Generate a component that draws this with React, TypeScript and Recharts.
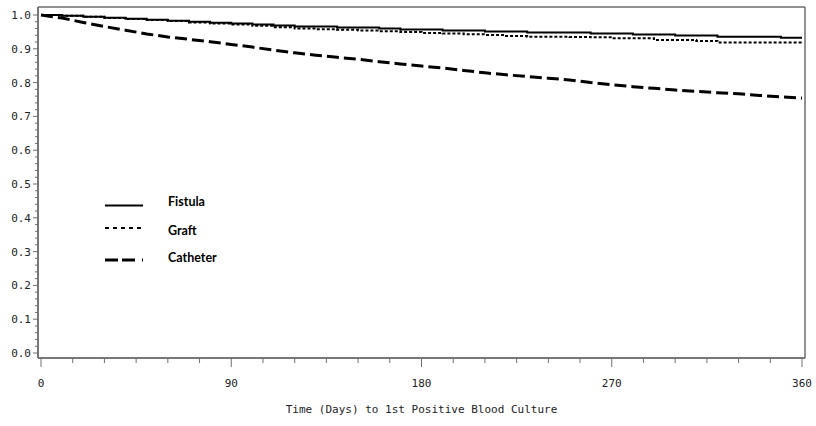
import React from 'react';
import { LineChart, Line, XAxis, YAxis, Legend, CartesianGrid } from 'recharts';

// survival estimates, every 10 days
const days = [
  0, 10, 20, 30, 40, 50, 60, 70, 80, 90, 100, 110, 120, 130, 140, 150, 160, 170, 180,
  190, 200, 210, 220, 230, 240, 250, 260, 270, 280, 290, 300, 310, 320, 330, 340, 350, 360,
];
const fistula = [
  1.0, 0.998, 0.995, 0.992, 0.989, 0.986, 0.983, 0.98, 0.977, 0.975, 0.972, 0.969, 0.966,
  0.966, 0.963, 0.963, 0.96, 0.957, 0.957, 0.954, 0.954, 0.951, 0.951, 0.948, 0.948, 0.948,
  0.945, 0.945, 0.942, 0.942, 0.939, 0.939, 0.936, 0.936, 0.936, 0.933, 0.933,
];
const graft = [
  1.0, 0.998, 0.995, 0.991, 0.988, 0.985, 0.982, 0.978, 0.975, 0.972, 0.968, 0.964, 0.96,
  0.958, 0.956, 0.954, 0.952, 0.95, 0.947, 0.945, 0.943, 0.941, 0.938, 0.936, 0.936, 0.935,
  0.934, 0.931, 0.931, 0.926, 0.926, 0.923, 0.919, 0.919, 0.919, 0.919, 0.919,
];
const catheter = [
  1.0, 0.991, 0.978, 0.966, 0.955, 0.944, 0.935, 0.928, 0.921, 0.913, 0.905, 0.896, 0.888,
  0.881, 0.875, 0.869, 0.862, 0.855, 0.849, 0.843, 0.836, 0.829, 0.823, 0.818, 0.813, 0.808,
  0.8, 0.794, 0.788, 0.783, 0.778, 0.774, 0.77, 0.767, 0.762, 0.758, 0.754,
];

const seriesNames = ['Fistula', 'Graft', 'Catheter'];
const xMajorTicks = [0, 90, 180, 270, 360];
const yMajorTicks = [0.0, 0.1, 0.2, 0.3, 0.4, 0.5, 0.6, 0.7, 0.8, 0.9, 1.0];
const xTitle = 'Time (Days) to 1st Positive Blood Culture';

// minor ticks: every 15 days, every 0.02
const xTicks = Array.from({ length: 25 }, (_, i) => i * 15);
const yTicks = Array.from({ length: 51 }, (_, i) => Math.round(i * 2) / 100);

const data = days.map((d, i) => ({
  day: d,
  fistula: fistula[i],
  graft: graft[i],
  catheter: catheter[i],
}));

const AXIS = '#6e6e6e';
const MONO = '"DejaVu Sans Mono", monospace';

const XTick = ({ x, y, payload }: any) => {
  const major = xMajorTicks.includes(payload.value);
  return (
    <g>
      <line x1={x} x2={x} y1={y} y2={y + (major ? 9 : 5)} stroke={AXIS} strokeWidth={1} />
      {major && (
        <text x={x} y={y + 29} textAnchor="middle" fontFamily={MONO} fontSize={11} fill="#222">
          {payload.value}
        </text>
      )}
    </g>
  );
};

const YTick = ({ x, y, payload }: any) => {
  const major = yMajorTicks.some((t) => Math.abs(t - payload.value) < 1e-6);
  return (
    <g>
      <line x1={x - (major ? 5 : 3)} x2={x} y1={y} y2={y} stroke={AXIS} strokeWidth={1} />
      {major && (
        <text x={x - 7} y={y + 4} textAnchor="end" fontFamily={MONO} fontSize={11} fill="#222">
          {payload.value.toFixed(1)}
        </text>
      )}
    </g>
  );
};

const LegendBox = () => {
  const rows = [
    { name: seriesNames[0], ly: 15.5, ty: 16, dash: undefined, w: 2 },
    { name: seriesNames[1], ly: 38, ty: 45, dash: '4 4', w: 2 },
    { name: seriesNames[2], ly: 70, ty: 71.5, dash: '13 4 13 7 1 100', w: 3 },
  ];
  return (
    <svg width={140} height={80}>
      {rows.map((r) => (
        <g key={r.name}>
          <line x1={5} x2={43} y1={r.ly} y2={r.ly} stroke="#000" strokeWidth={r.w} strokeDasharray={r.dash} />
          <text x={68} y={r.ty} fontFamily="Lato, sans-serif" fontWeight={700} fontSize={12.5} fill="#000">
            {r.name}
          </text>
        </g>
      ))}
    </svg>
  );
};

export default function App() {
  return (
    <div style={{ position: 'absolute', left: 0, top: 0, width: 816, height: 426, background: '#fff' }}>
      <LineChart width={816} height={426} data={data} margin={{ top: 7, right: 11, left: 0, bottom: 0 }}>
        {/* plot frame: lines on the four edges of the plot area */}
        <CartesianGrid
          stroke={AXIS}
          strokeWidth={1.5}
          horizontalCoordinatesGenerator={({ offset }: any) => [offset.top, offset.top + offset.height]}
          verticalCoordinatesGenerator={({ offset }: any) => [offset.left, offset.left + offset.width]}
        />
        <XAxis
          dataKey="day"
          type="number"
          domain={[0, 360]}
          ticks={xTicks}
          interval={0}
          padding={{ left: 3, right: 3 }}
          height={68}
          tickLine={false}
          tickSize={0}
          tickMargin={0}
          tick={<XTick />}
          axisLine={{ stroke: AXIS, strokeWidth: 1.5 }}
          label={{
            value: xTitle,
            position: 'insideBottom',
            offset: 13,
            style: { fontFamily: MONO, fontSize: 11, fill: '#222' },
          }}
        />
        <YAxis
          type="number"
          domain={[0, 1]}
          ticks={yTicks}
          interval={0}
          padding={{ top: 8, bottom: 5 }}
          width={38}
          tickLine={false}
          tickSize={0}
          tickMargin={0}
          tick={<YTick />}
          axisLine={{ stroke: AXIS, strokeWidth: 1.5 }}
        />
        <Legend
          layout="horizontal"
          verticalAlign="middle"
          align="center"
          content={<LegendBox />}
          wrapperStyle={{ position: 'absolute', left: 100, top: 190, width: 140, height: 80 }}
        />
        <Line type="stepAfter" dataKey="graft" name={seriesNames[1]} stroke="#000" strokeWidth={2} strokeDasharray="3 2" dot={false} isAnimationActive={false} />
        <Line type="stepAfter" dataKey="fistula" name={seriesNames[0]} stroke="#000" strokeWidth={2} dot={false} isAnimationActive={false} />
        <Line type="linear" dataKey="catheter" name={seriesNames[2]} stroke="#000" strokeWidth={3} strokeDasharray="12 5" dot={false} isAnimationActive={false} />
      </LineChart>
    </div>
  );
}
